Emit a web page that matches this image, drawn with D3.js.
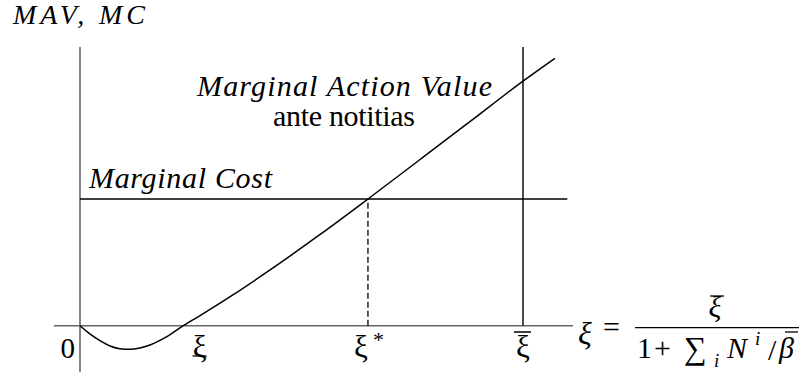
<!doctype html>
<html>
<head>
<meta charset="UTF-8">
<title>MAV and MC</title>
<script src="https://d3js.org/d3.v7.min.js"></script>
</head>
<body>
<script>
// marginal action value curve (xi in units where xi-bar = 10, MC = 1)
var mavX = [0, 0.23, 0.45, 0.68, 0.9, 1.13, 1.35, 1.58, 1.96, 2.33, 2.71, 3.46, 4.29, 5.42, 6.5, 7.67, 8.8, 10, 10.72];
var mavY = [0, -0.066, -0.117, -0.16, -0.182, -0.186, -0.176, -0.152, -0.087, 0, 0.08, 0.245, 0.44, 0.72, 1, 1.31, 1.61, 1.93, 2.11];
var mcValue = 1;
var mcEnd = 11;
var xiStar = 6.5;
var xiBar = 10;
var xiLowLabel = 2.7;
var xDomain = [-0.59, 11.13];
var yDomain = [-0.365, 2.2];

var xs = d3.scaleLinear().domain([0, 10]).range([80, 523]);
var ys = d3.scaleLinear().domain([0, 1]).range([325.7, 199]);

d3.select("body").style("margin", "0px");
var svg = d3.select("body").append("svg")
    .attr("width", 807)
    .attr("height", 376)
    .style("display", "block");

function txt(parent, s, px, py, size, italic) {
    var t = parent.append("text")
        .attr("x", px).attr("y", py)
        .attr("font-family", "Liberation Serif")
        .style("font-family", "'Liberation Serif', 'Times New Roman', serif", "important")
        .attr("font-size", size)
        .text(s);
    if (italic) t.style("font-style", "italic", "important");
    return t;
}

// axes
svg.append("line")
    .attr("x1", xs(xDomain[0])).attr("x2", xs(xDomain[1]))
    .attr("y1", ys(0)).attr("y2", ys(0))
    .attr("stroke", "#666").attr("stroke-width", 1.6);
svg.append("line")
    .attr("x1", xs(0)).attr("x2", xs(0))
    .attr("y1", ys(yDomain[0])).attr("y2", ys(yDomain[1]))
    .attr("stroke", "#666").attr("stroke-width", 1.6);

// marginal cost
svg.append("line")
    .attr("x1", xs(0)).attr("x2", xs(mcEnd))
    .attr("y1", ys(mcValue)).attr("y2", ys(mcValue))
    .attr("stroke", "#000").attr("stroke-width", 1.4);

// xi-bar vertical
svg.append("line")
    .attr("x1", xs(xiBar)).attr("x2", xs(xiBar))
    .attr("y1", ys(0)).attr("y2", ys(yDomain[1]))
    .attr("stroke", "#000").attr("stroke-width", 1.4);

// xi* dashed
svg.append("line")
    .attr("x1", xs(xiStar)).attr("x2", xs(xiStar))
    .attr("y1", ys(0)).attr("y2", ys(mcValue))
    .attr("stroke", "#000").attr("stroke-width", 1.3)
    .attr("stroke-dasharray", "6,3");

// curve
var pts = mavX.map(function (d, i) { return [d, mavY[i]]; });
var mavLine = d3.line()
    .x(function (d) { return xs(d[0]); })
    .y(function (d) { return ys(d[1]); })
    .curve(d3.curveMonotoneX);
svg.append("path")
    .attr("d", mavLine(pts))
    .attr("fill", "none")
    .attr("stroke", "#000")
    .attr("stroke-width", 1.5);

// labels
txt(svg, "MAV, MC", 13, 24, 28, true)
    .attr("textLength", 132).attr("lengthAdjust", "spacing");
txt(svg, "Marginal Action Value", 197, 96, 30, true)
    .attr("textLength", 295).attr("lengthAdjust", "spacing");
txt(svg, "ante notitias", 273, 126, 30, false)
    .attr("textLength", 142).attr("lengthAdjust", "spacing");
txt(svg, "Marginal Cost", 89, 188, 30, true)
    .attr("textLength", 183).attr("lengthAdjust", "spacing");
txt(svg, "0", xs(0) - 5, 358, 29, false).attr("text-anchor", "end");

// tick labels on xi axis
var tickX = [xiLowLabel, xiStar, xiBar];
var tickLab = ["ξ", "ξ", "ξ"];
tickX.forEach(function (d, i) {
    txt(svg, tickLab[i], xs(d) + (i === 1 ? -7 : 0), 357, 31, false)
        .attr("text-anchor", "middle");
});
// underline for lower xi, star, bar for upper
svg.append("line")
    .attr("x1", xs(xiLowLabel) - 7).attr("x2", xs(xiLowLabel) + 7)
    .attr("y1", 356).attr("y2", 356)
    .attr("stroke", "#000").attr("stroke-width", 1.3);
txt(svg, "*", xs(xiStar) + 5, 347, 22, false);
svg.append("line")
    .attr("x1", xs(xiBar) - 9).attr("x2", xs(xiBar) + 8)
    .attr("y1", 332).attr("y2", 332)
    .attr("stroke", "#000").attr("stroke-width", 1.5);

// formula on the axis end
var fg = svg.append("g");
txt(fg, "ξ", 578, 344, 32, true);
txt(fg, "=", 603, 337, 30, false);
fg.append("line").attr("x1", 635).attr("x2", 799).attr("y1", 327.7).attr("y2", 327.7)
    .attr("stroke", "#000").attr("stroke-width", 1.3);
txt(fg, "ξ", 715, 317, 30, true).attr("text-anchor", "middle");
fg.append("line").attr("x1", 710).attr("x2", 724).attr("y1", 296).attr("y2", 296)
    .attr("stroke", "#000").attr("stroke-width", 1.3);
txt(fg, "1", 637, 358, 30, false);
txt(fg, "+", 654, 358, 30, false);
txt(fg, "∑", 684, 359, 32, false);
txt(fg, "i", 714, 367, 19, true);
txt(fg, "N", 727, 358, 30, true);
txt(fg, "i", 755, 345, 19, true);
txt(fg, "/", 768, 360, 30, false);
txt(fg, "β", 779, 358, 30, true);
fg.append("line").attr("x1", 785).attr("x2", 798).attr("y1", 332).attr("y2", 332)
    .attr("stroke", "#000").attr("stroke-width", 1.3);
</script>
</body>
</html>
